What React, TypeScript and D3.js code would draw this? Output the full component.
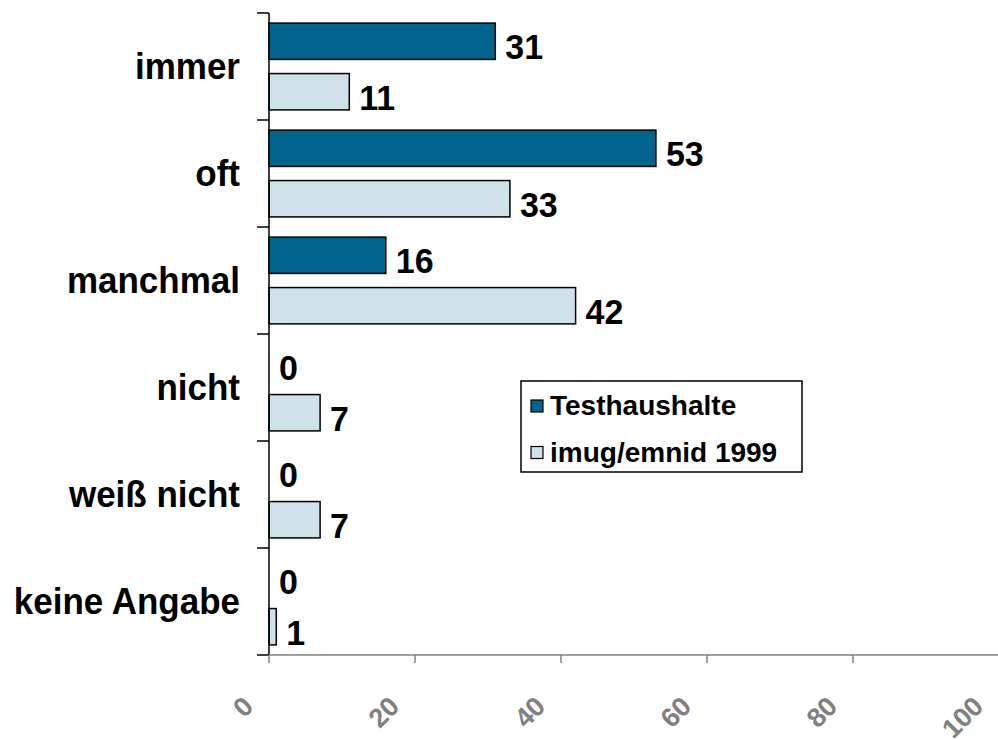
import React from "react";
import * as d3 from "d3";

const categories = ["immer", "oft", "manchmal", "nicht", "weiß nicht", "keine Angabe"];
const seriesNames = ["Testhaushalte", "imug/emnid 1999"];
const testhaushalte = [31, 53, 16, 0, 0, 0];
const imugEmnid = [11, 33, 42, 7, 7, 1];
const xTicks = [0, 20, 40, 60, 80, 100];

const colors = ["#00648C", "#CFE2EA"];
const FONT = "'Liberation Sans', Arial, Helvetica, sans-serif";

export default function App() {
  const width = 998;
  const height = 740;
  const x = d3.scaleLinear().domain([0, 100]).range([269, 999]);
  const y = d3.scaleBand<string>().domain(categories).range([13, 655]).padding(0);
  const inner = d3
    .scaleBand<string>()
    .domain(seriesNames)
    .range([0, y.bandwidth()])
    .paddingInner(0.28)
    .paddingOuter(0.2);
  const series = [testhaushalte, imugEmnid];

  return (
    <svg
      width={width}
      height={height}
      style={{ position: "absolute", left: 0, top: 0, background: "#fff" }}
      fontFamily={FONT}
    >
      <rect x={0} y={0} width={width} height={height} fill="#fff" />
      {/* bars */}
      {categories.map((c, ci) =>
        series.map((s, si) => {
          const v = s[ci];
          const by = (y(c) as number) + (inner(seriesNames[si]) as number);
          const bh = inner.bandwidth();
          return (
            <g key={c + si}>
              {v > 0 && (
                <rect
                  x={x(0)}
                  y={by}
                  width={x(v) - x(0)}
                  height={bh}
                  fill={colors[si]}
                  stroke="#000"
                  strokeWidth={1.5}
                />
              )}
              <text
                transform={`translate(${x(v) + 10},${by + bh}) scale(1,1.05)`}
                fontSize={34}
                fontWeight="bold"
                fill="#000"
              >
                {v}
              </text>
            </g>
          );
        })
      )}
      {/* y axis */}
      <line x1={269} x2={269} y1={13} y2={655} stroke="#000" strokeWidth={1.5} />
      {d3.range(categories.length + 1).map((i) => {
        const ty = 13 + i * y.step();
        return <line key={i} x1={257} x2={269} y1={ty} y2={ty} stroke="#000" strokeWidth={1.5} />;
      })}
      {categories.map((c) => (
        <text
          key={c}
          transform={`translate(240,${(y(c) as number) + y.bandwidth() / 2 + 12}) scale(1,1.05)`}
          textAnchor="end"
          fontSize={35}
          fontWeight="bold"
          fill="#000"
        >
          {c}
        </text>
      ))}
      {/* x axis */}
      <line x1={269} x2={998} y1={655} y2={655} stroke="#808080" strokeWidth={1.5} />
      {xTicks.map((t) => (
        <g key={t}>
          <line x1={x(t)} x2={x(t)} y1={655} y2={663} stroke="#808080" strokeWidth={1.5} />
          <text
            transform={`translate(${x(t) - 14},${708}) rotate(-45)`}
            textAnchor="end"
            fontSize={27}
            fontWeight="bold"
            fill="#808080"
          >
            {t}
          </text>
        </g>
      ))}
      {/* legend */}
      <rect x={521} y={381} width={281} height={91} fill="#fff" stroke="#000" strokeWidth={1.5} />
      {seriesNames.map((n, i) => (
        <g key={n}>
          <rect
            x={531}
            y={400 + i * 46.5}
            width={12}
            height={12}
            fill={colors[i]}
            stroke="#000"
            strokeWidth={1.2}
          />
          <text x={550} y={415 + i * 47} fontSize={28} fontWeight="bold" fill="#000">
            {n}
          </text>
        </g>
      ))}
    </svg>
  );
}
